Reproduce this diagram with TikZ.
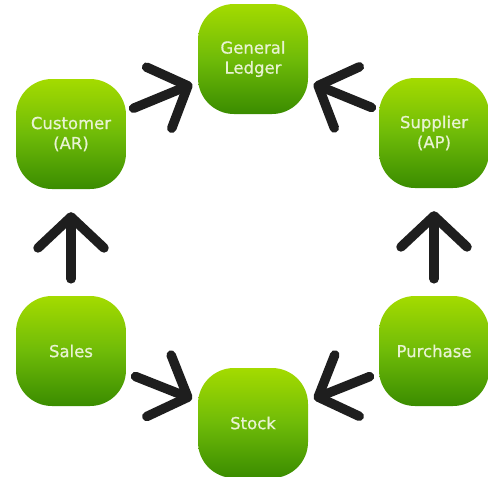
\documentclass[tikz,border=0pt]{standalone}
\usepackage{fontspec}
\setmainfont{DejaVu Sans}
\newfontfamily\leaffont{DejaVu Sans}[FakeBold=0.7]
\usetikzlibrary{
  arrows.meta,
  }

\definecolor{leaftop}{HTML}{A4DB00}
\definecolor{leafmid}{HTML}{6FBB08}
\definecolor{leafbot}{HTML}{3A8C00}
\definecolor{leaftext}{HTML}{E8F3D2}
\definecolor{ink}{HTML}{1E1E1E}

\begin{document}
\begin{tikzpicture}[x=1pt, y=-1pt,
    every node/.style={rectangle, rounded corners=36pt,
      minimum width=110pt, minimum height=110pt, inner sep=0pt,
      top color=leaftop, bottom color=leafbot, middle color=leafmid,
      text=leaftext, align=center, font=\leaffont\fontsize{16.5}{20}\selectfont},
    flow/.style={-{Straight Barb[length=31pt, width=66pt, round]},
      line width=9.5pt, line cap=round, line join=round, draw=ink}]
                \useasboundingbox (0,0) rectangle (488,477);

                % accounts
                \node (ledger) at (253,59) {General\\Ledger};
                \node (customer) at (71,134) {Customer\\(AR)};
                \node (supplier) at (434,133) {Supplier\\(AP)};
                \node (sales) at (71,351) {Sales};
                \node (purchase) at (434,351) {Purchase};
                \node (stock) at (253,423) {Stock};

                % postings
                \draw[flow, shorten <=8pt, shorten >=6pt] (customer) -- (ledger);
                \draw[flow, shorten <=8pt, shorten >=6pt] (supplier) -- (ledger);
                \draw[flow, shorten <=17pt, shorten >=23pt] (sales) -- (customer);
                \draw[flow, shorten <=17pt, shorten >=23pt] (purchase) -- (supplier);
                \draw[flow, shorten <=10pt, shorten >=6pt] (sales) -- (stock);
                \draw[flow, shorten <=10pt, shorten >=6pt] (purchase) -- (stock);

            \end{tikzpicture}
\end{document}
